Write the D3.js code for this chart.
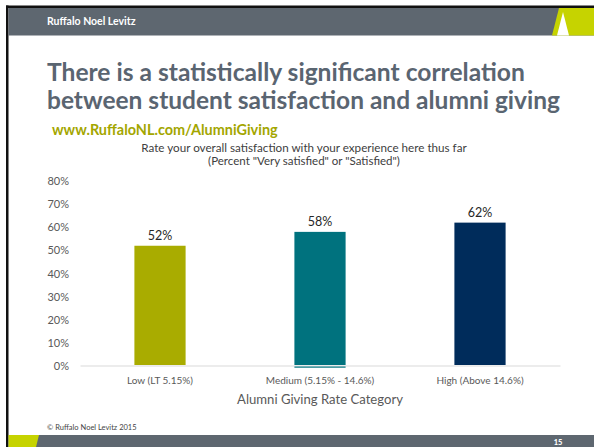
<!DOCTYPE html>
<html><head><meta charset="utf-8">
<script src="https://cdn.jsdelivr.net/npm/d3@7"></script>
<style>
html,body{margin:0;padding:0;background:#fff;}
svg{display:block;font-family:Lato,"Open Sans",sans-serif;}
</style></head>
<body>
<svg id="chart" width="594" height="447"></svg>
<script>
const categories = ["Low (LT 5.15%)", "Medium (5.15% - 14.6%)", "High (Above 14.6%)"];
const values = [0.52, 0.58, 0.62];
const valueLabels = ["52%", "58%", "62%"];
const barColors = ["#a9ac00", "#00727e", "#002c5b"];
const yTicks = [0, 0.1, 0.2, 0.3, 0.4, 0.5, 0.6, 0.7, 0.8];

const svg = d3.select("#chart");

function fit(sel, target, maxSize) {
  let fs = maxSize;
  sel.attr("font-size", fs);
  const w = sel.node().getComputedTextLength();
  if (w > 0) sel.attr("font-size", fs * target / w);
  return sel;
}

// frame
svg.append("rect").attr("x", 0).attr("y", 0).attr("width", 594).attr("height", 447).attr("fill", "#fff");
svg.append("rect").attr("x", 6).attr("y", 5.5).attr("width", 588).attr("height", 2.5).attr("fill", "#111");
svg.append("rect").attr("x", 6).attr("y", 5.5).attr("width", 2.5).attr("height", 441.5).attr("fill", "#111");

// header band
svg.append("rect").attr("x", 8.5).attr("y", 8).attr("width", 586).attr("height", 27.5).attr("fill", "#5e6770");
svg.append("polygon").attr("points", "559,8 594,8 594,35.5 552,35.5").attr("fill", "#c6d300");
svg.append("polygon").attr("points", "563,12 569,35.5 557,35.5").attr("fill", "#ffffff");
svg.append("text").attr("x", 47).attr("y", 25).attr("fill", "#fff").attr("font-weight", "bold")
  .attr("font-size", 10.5).text("Ruffalo Noel Levitz");

// footer band
svg.append("rect").attr("x", 8.5).attr("y", 435).attr("width", 586).attr("height", 12).attr("fill", "#5e6770");
svg.append("polygon").attr("points", "8.5,435 39,435 36,447 8.5,447").attr("fill", "#c6d300");
svg.append("text").attr("x", 558).attr("y", 444.5).attr("text-anchor", "middle").attr("fill", "#fff")
  .attr("font-weight", "900").attr("font-size", 7.5).text("15");
svg.append("text").attr("x", 47).attr("y", 430).attr("fill", "#444").attr("font-size", 7.5).text("\u00A9 Ruffalo Noel Levitz 2015");

// title
const t1 = svg.append("text").attr("x", 47).attr("y", 81).attr("fill", "#5a6571").attr("font-weight", "bold")
  .text("There is a statistically significant correlation");
fit(t1, 478, 26);
const t2 = svg.append("text").attr("x", 47).attr("y", 109).attr("fill", "#5a6571").attr("font-weight", "bold")
  .text("between student satisfaction and alumni giving");
fit(t2, 513, 26);
const url = svg.append("text").attr("x", 52).attr("y", 135).attr("fill", "#a3a600").attr("font-weight", "bold")
  .text("www.RuffaloNL.com/AlumniGiving");
fit(url, 226, 15);

// subtitle
const s1 = svg.append("text").attr("x", 304).attr("y", 152).attr("text-anchor", "middle").attr("fill", "#404040")
  .text("Rate your overall satisfaction with your experience here thus far");
fit(s1, 326, 11);
const s2 = svg.append("text").attr("x", 304).attr("y", 165).attr("text-anchor", "middle").attr("fill", "#404040")
  .text("(Percent \"Very satisfied\" or \"Satisfied\")");
fit(s2, 192, 11);

// scales
const x = d3.scaleBand().domain(categories).range([80, 560]).paddingInner(0.68).paddingOuter(0.34);
const y = d3.scaleLinear().domain([0, 0.8]).range([366, 181]);

// y axis
const yAxis = d3.axisLeft(y).tickValues(yTicks).tickFormat(d3.format(".0%")).tickSize(0).tickPadding(0);
const yg = svg.append("g").attr("transform", "translate(69,0)").call(yAxis);
yg.select(".domain").remove();
yg.selectAll("text").attr("font-family", "Lato, sans-serif").attr("font-size", 11).attr("fill", "#595959");

// x axis
const xAxis = d3.axisBottom(x).tickSize(0).tickPadding(11);
const xg = svg.append("g").attr("transform", `translate(0,${y(0) - 0.5})`).call(xAxis);
xg.select(".domain").attr("stroke", "#d9d9d9").attr("stroke-width", 1.2);
xg.selectAll("text").attr("font-family", "Lato, sans-serif").attr("font-size", 10).attr("fill", "#595959");

// bars
svg.append("g").selectAll("rect").data(values).join("rect")
  .attr("x", (d, i) => x(categories[i]))
  .attr("width", x.bandwidth())
  .attr("y", d => y(d))
  .attr("height", d => y(0) - 1 - y(d))
  .attr("fill", (d, i) => barColors[i]);

// small teal underline below medium bar
svg.append("rect").attr("x", x(categories[1])).attr("width", x.bandwidth())
  .attr("y", y(0) + 0.5).attr("height", 1.2).attr("fill", barColors[1]);

// value labels
svg.append("g").selectAll("text").data(values).join("text")
  .attr("x", (d, i) => x(categories[i]) + x.bandwidth() / 2)
  .attr("y", d => y(d) - 6)
  .attr("text-anchor", "middle")
  .attr("font-size", 12.5).attr("fill", "#262626")
  .text((d, i) => valueLabels[i]);

// x axis title
const xt = svg.append("text").attr("x", 320).attr("y", 404).attr("text-anchor", "middle").attr("fill", "#595959")
  .text("Alumni Giving Rate Category");
fit(xt, 166, 13);
</script>
</body></html>
